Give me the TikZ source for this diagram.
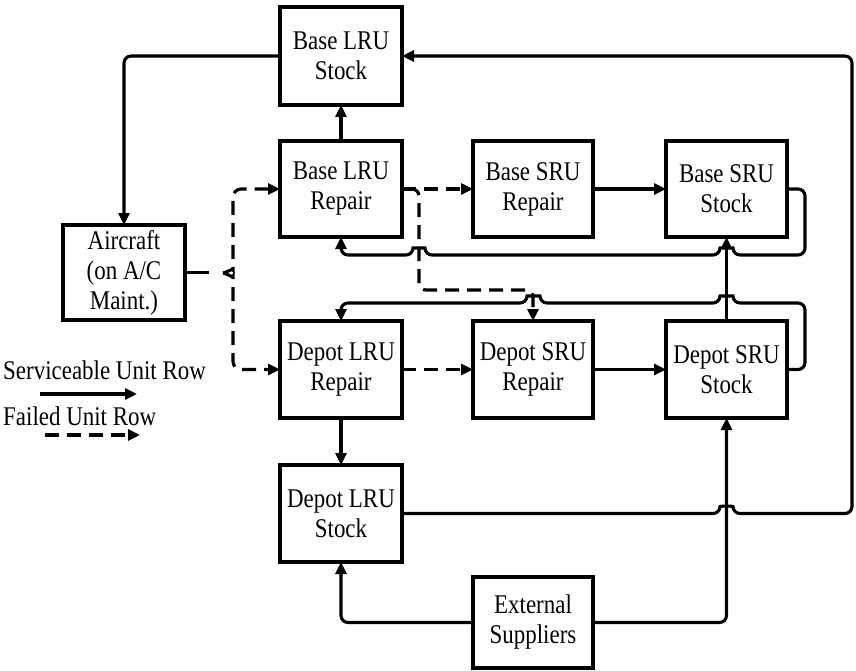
\documentclass[tikz,border=0pt]{standalone}
\usepackage{fontspec}
\setmainfont{Liberation Serif}[FakeStretch=0.85]
\usetikzlibrary{arrows.meta}
\begin{document}
\begin{tikzpicture}[x=1pt,y=-1pt,
  box/.style={draw, line width=3.4pt, inner sep=0pt, outer sep=0pt, align=center, font=\fontsize{27}{30}\selectfont},
  conn/.style={line width=3.1pt},
  tip/.style={-{Triangle[length=12pt,width=11pt]}},
  arr/.style={conn, tip},
  dsh/.style={conn, dash pattern=on 14pt off 8pt},
  lbl/.style={font=\fontsize{27}{30}\selectfont, inner sep=0pt, anchor=west}]
\useasboundingbox (0,0) rectangle (856,671);

% boxes
\node[box, minimum width=122pt, minimum height=98pt] (bls) at (341,56) {Base LRU\\Stock};
\node[box, minimum width=122pt, minimum height=96pt] (blr) at (341,189) {Base LRU\\Repair};
\node[box, minimum width=120pt, minimum height=96pt] (bsr) at (533,189) {Base SRU\\Repair};
\node[box, minimum width=121pt, minimum height=96pt] (bss) at (726.5,189) {Base SRU\\Stock};
\node[box, minimum width=122pt, minimum height=95pt] (ac) at (124,272.5) {Aircraft\\(on A/C\\Maint.)};
\node[box, minimum width=122pt, minimum height=97pt] (dlr) at (341,369.5) {Depot LRU\\Repair};
\node[box, minimum width=120pt, minimum height=97pt] (dsr) at (533,369.5) {Depot SRU\\Repair};
\node[box, minimum width=121pt, minimum height=97pt] (dss) at (726.5,369.5) {Depot SRU\\Stock};
\node[box, minimum width=122pt, minimum height=97pt] (dls) at (341,513.5) {Depot LRU\\Stock};
\node[box, minimum width=120pt, minimum height=91pt] (ext) at (533,622.5) {External\\Suppliers};

% legend
\node[lbl] (lg1) at (3,370) {Serviceable Unit Row};
\node[lbl] (lg2) at (3,416) {Failed Unit Row};
\coordinate (l1a) at (40,394); \coordinate (l1b) at (137,394);
\coordinate (l2a) at (45,435); \coordinate (l2b) at (140,435);
\draw[arr] (l1a) -- (l1b);
\draw[dsh, tip] (l2a) -- (l2b);

% solid straight connectors
\draw[arr] (blr.north) -- (bls.south);
\draw[arr] (bsr.east) -- (bss.west);
\draw[arr] (dsr.east) -- (dss.west);
\draw[arr] (dss.north) -- (bss.south);
\draw[arr] (dlr.south) -- (dls.north);
\draw[arr, rounded corners=7pt] (bls.west) -| (ac.north);
\draw[arr, rounded corners=7pt] (ext.west) -| (dls.south);
\draw[arr, rounded corners=7pt] (ext.east) -| (dss.south);

% right outer loop: Depot LRU Stock -> Base LRU Stock
\draw[arr, rounded corners=7pt] (dls.east) -- (720,513.5)
  .. controls (720,506) and (733,506) .. (733,513.5)
  -- (852,513.5) -- (852,56) -- (bls.east);

% Base SRU Stock -> Base LRU Repair loop
\draw[arr, rounded corners=7pt] (bss.east) -- (805,189) -- (805,255) -- (733,255)
  .. controls (733,248) and (720,248) .. (720,255)
  -- (425,255) .. controls (425,248) and (413,248) .. (413,255)
  -- (341,255) -- (blr.south);

% Depot SRU Stock -> Depot LRU Repair loop
\draw[arr, rounded corners=7pt] (dss.east) -- (805,369.5) -- (805,303) -- (733,303)
  .. controls (733,296) and (720,296) .. (720,303)
  -- (540,303) .. controls (540,296) and (527,296) .. (527,303)
  -- (341,303) -- (dlr.north);

% failed unit (dashed) flows
\coordinate (acx) at (209,272.5);
\coordinate (btip) at (223,273);
\draw[conn] (ac.east) -- (acx);
\draw[dsh, tip, rounded corners=8pt] (btip) .. controls (230,271) and (233,268) .. (233,262)
  -- (233,189) -- (blr.west);
\draw[dsh, tip, rounded corners=8pt] (btip) .. controls (230,275) and (233,278) .. (233,284)
  -- (233,369.5) -- (dlr.west);
\draw[dsh, tip] (blr.east) -- (bsr.west);
\draw[dsh, tip] (dlr.east) -- (dsr.west);
\coordinate (brs) at (408,189);
\draw[dsh, tip, rounded corners=7pt] (brs) -- (419,189) -- (419,290) -- (533,290) -- (dsr.north);
\end{tikzpicture}
\end{document}
